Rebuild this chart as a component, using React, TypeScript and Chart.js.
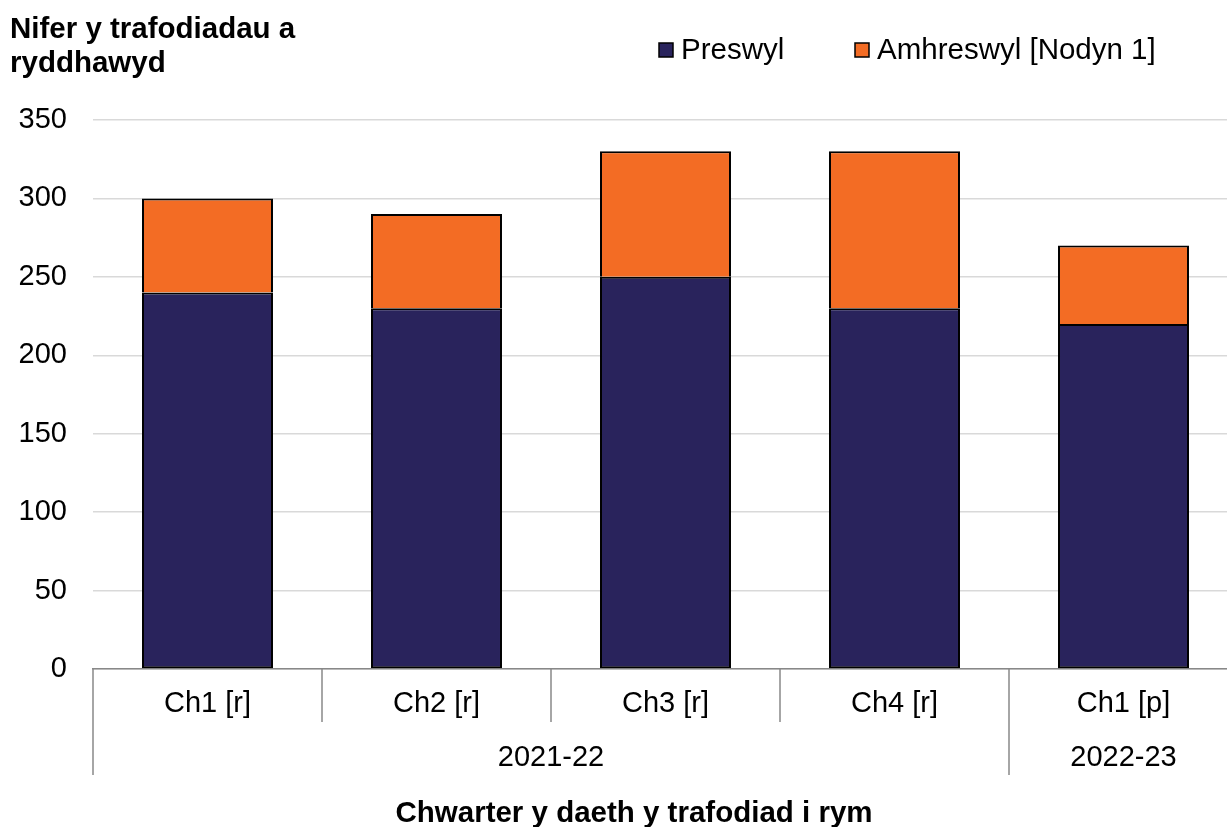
import React, { useEffect, useRef } from "react";
import { Chart, registerables } from "chart.js";

Chart.register(...registerables);

const categories = ["Ch1 [r]", "Ch2 [r]", "Ch3 [r]", "Ch4 [r]", "Ch1 [p]"];
const categoryGroups = ["2021-22", "2021-22", "2021-22", "2021-22", "2022-23"];
const preswylValues = [240, 230, 250, 230, 220];
const amhreswylValues = [60, 60, 80, 100, 50];
const seriesNames = ["Preswyl", "Amhreswyl [Nodyn 1]"];
const titleLines = ["Nifer y trafodiadau a", "ryddhawyd"];
const xAxisTitle = "Chwarter y daeth y trafodiad i rym";

const NAVY = "#29235c";
const ORANGE = "#f36c24";
const FONT = "'Liberation Sans', Arial, sans-serif";

const decorPlugin = {
  id: "decor",
  afterDraw(chart: any) {
    const ctx = chart.ctx;
    const area = chart.chartArea;
    const xs = chart.scales.x;
    ctx.save();
    // title
    ctx.fillStyle = "#000";
    ctx.font = `bold 29.5px ${FONT}`;
    ctx.textAlign = "left";
    ctx.textBaseline = "alphabetic";
    ctx.fillText(titleLines[0], 10, 38);
    ctx.fillText(titleLines[1], 10, 72);

    // legend
    const legendX = [659, 855];
    ctx.font = `29.5px ${FONT}`;
    ctx.textBaseline = "middle";
    chart.data.datasets.forEach((ds: any, i: number) => {
      const x = legendX[i];
      ctx.fillStyle = ds.backgroundColor;
      ctx.fillRect(x, 43, 14, 14);
      ctx.strokeStyle = "#000";
      ctx.lineWidth = 1.5;
      ctx.strokeRect(x, 43, 14, 14);
      ctx.fillStyle = "#000";
      ctx.fillText(ds.label, x + 22, 51);
    });

    // category separators and group labels
    const n = categories.length;
    const boundaries: number[] = [];
    for (let i = 0; i <= n; i++) {
      if (i === 0) boundaries.push(area.left);
      else if (i === n) boundaries.push(area.right);
      else boundaries.push((xs.getPixelForValue(i - 1) + xs.getPixelForValue(i)) / 2);
    }
    ctx.strokeStyle = "#888888";
    ctx.lineWidth = 1.5;
    for (let i = 0; i <= n; i++) {
      const long = i === 0 || i === n || categoryGroups[i] !== categoryGroups[i - 1];
      ctx.beginPath();
      ctx.moveTo(boundaries[i], area.bottom);
      ctx.lineTo(boundaries[i], area.bottom + (long ? 106 : 53));
      ctx.stroke();
    }
    ctx.fillStyle = "#000";
    ctx.font = `29px ${FONT}`;
    ctx.textAlign = "center";
    ctx.textBaseline = "middle";
    let start = 0;
    for (let i = 1; i <= n; i++) {
      if (i === n || categoryGroups[i] !== categoryGroups[start]) {
        const cx = (boundaries[start] + boundaries[i]) / 2;
        ctx.fillText(categoryGroups[start], cx, area.bottom + 89);
        start = i;
      }
    }
    // x axis title
    ctx.font = `bold 29.5px ${FONT}`;
    ctx.textBaseline = "alphabetic";
    ctx.fillText(xAxisTitle, 634, 822);
    ctx.restore();
  },
};

export default function App() {
  const ref = useRef<HTMLCanvasElement | null>(null);
  useEffect(() => {
    document.body.style.margin = "0";
    const canvas = ref.current!;
    const chart = new Chart(canvas, {
      type: "bar",
      data: {
        labels: categories,
        datasets: [
          {
            label: seriesNames[0],
            data: preswylValues,
            backgroundColor: NAVY,
            borderColor: "#000",
            borderWidth: 2,
            borderSkipped: false,
            categoryPercentage: 1,
            barPercentage: 0.572,
          },
          {
            label: seriesNames[1],
            data: amhreswylValues,
            backgroundColor: ORANGE,
            borderColor: "#000",
            borderWidth: 2,
            borderSkipped: "start",
            categoryPercentage: 1,
            barPercentage: 0.572,
          },
        ],
      },
      options: {
        responsive: false,
        animation: false,
        devicePixelRatio: 1,
        layout: { padding: { top: 120, right: 2, left: 0, bottom: 0 } },
        plugins: {
          legend: { display: false },
          title: { display: false },
          tooltip: { enabled: false },
        },
        scales: {
          x: {
            stacked: true,
            grid: { display: false, drawTicks: false },
            border: { display: true, color: "#888888", width: 1.5 },
            ticks: {
              color: "#000",
              font: { family: FONT, size: 29 },
              padding: 18,
              maxRotation: 0,
              autoSkip: false,
            },
            afterFit: (s: any) => {
              s.height = 158;
            },
          },
          y: {
            stacked: true,
            min: 0,
            max: 350,
            grid: { color: "#d9d9d9", lineWidth: 1.5, drawTicks: false },
            border: { display: false },
            ticks: {
              stepSize: 50,
              color: "#000",
              font: { family: FONT, size: 29 },
              padding: 26,
            },
            afterFit: (s: any) => {
              s.width = 93;
            },
          },
        },
      },
      plugins: [decorPlugin],
    });
    return () => chart.destroy();
  }, []);
  return (
    <div style={{ width: 1227, height: 827, overflow: "hidden", position: "relative" }}>
      <canvas ref={ref} width={1240} height={827} style={{ display: "block" }} />
    </div>
  );
}
